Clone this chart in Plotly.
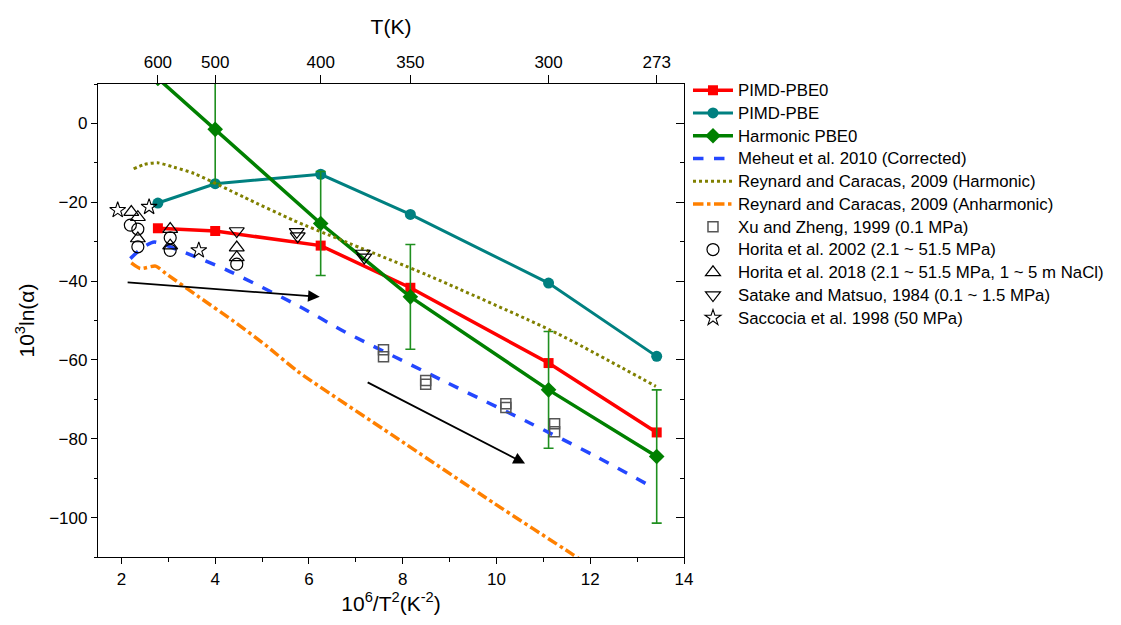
import plotly.graph_objects as go

# Temperatures of the path-integral / harmonic calculations and top-axis labels
temps_K = [600, 500, 400, 350, 300, 273]
inv_t2 = [1e6 / t ** 2 for t in temps_K]   # 10^6/T^2 (K^-2)
top_tick_text = [str(t) for t in temps_K]

# Calculated fractionation, 10^3 ln(alpha)
pimd_pbe0 = [-26.6, -27.3, -31.0, -41.7, -60.8, -78.4]
pimd_pbe = [-20.2, -15.3, -12.9, -23.1, -40.5, -59.1]
harm_pbe0 = [11.4, -1.5, -25.4, -44.0, -67.6, -84.5]
harm_pbe0_err = [None, 13.7, 13.2, 13.3, 14.8, 16.9]

# Literature curves
meheut_x = [2.19, 2.45, 2.70, 3.19, 4.25, 5.81, 6.69, 8.95, 10.71, 12.06, 13.36]
meheut_y = [-34.3, -31.5, -30.1, -32.0, -37.2, -46.5, -52.4, -65.8, -76.0, -84.1, -92.5]
reyh_x = [2.26, 2.49, 2.77, 3.12, 3.55, 4.61, 5.67, 6.69, 8.53, 11.28, 13.40]
reyh_y = [-11.5, -10.4, -10.0, -11.1, -12.7, -18.7, -24.6, -29.6, -38.5, -53.2, -66.7]
reya_x = [2.21, 2.40, 2.73, 2.95, 3.65, 4.36, 5.07, 5.77, 7.82, 9.94, 11.63, 13.40]
reya_y = [-35.4, -36.8, -36.2, -38.1, -44.0, -49.9, -56.2, -63.0, -79.4, -96.3, -109.4, -123.5]

# Experimental data
xu_x = [7.59, 7.59, 8.49, 8.49, 10.20, 10.20, 11.24, 11.24]
xu_y = [-57.4, -59.2, -65.2, -66.2, -71.1, -72.1, -76.2, -78.2]
h02_x = [2.19, 2.35, 2.35, 3.04, 3.04, 4.46]
h02_y = [-25.8, -26.8, -31.3, -29.0, -32.2, -35.7]
h18_x = [2.21, 2.35, 2.35, 3.04, 3.04, 4.46, 4.46]
h18_y = [-22.5, -23.8, -29.2, -26.8, -31.0, -31.5, -34.0]
sat_x = [4.46, 5.74, 5.76, 7.15, 7.18]
sat_y = [-27.3, -27.5, -28.6, -33.0, -34.0]
sac_x = [1.92, 2.59, 3.65]
sac_y = [-22.0, -21.2, -32.2]

# Trend arrows (tail -> head)
arrow_tails = [(2.10, -40.3), (7.22, -65.5)]
arrow_heads = [(6.23, -44.0), (10.61, -86.3)]

X_RANGE = [1.5, 14]
Y_RANGE = [-110, 10]
FONT = "Liberation Sans, Arial, sans-serif"


def legend_label(text):
    # legend rows are spaced by the legend font; the label itself is drawn larger
    return '<span style="font-size:16.8px">' + text + "</span>"


fig = go.Figure()

fig.add_trace(go.Scatter(
    x=inv_t2, y=pimd_pbe0, name=legend_label("PIMD-PBE0"), mode="lines+markers",
    line=dict(color="#ff0000", width=3.5),
    marker=dict(symbol="square", size=10, color="#ff0000")))
fig.add_trace(go.Scatter(
    x=inv_t2, y=pimd_pbe, name=legend_label("PIMD-PBE"), mode="lines+markers",
    line=dict(color="#008080", width=3),
    marker=dict(symbol="circle", size=11, color="#008080")))
fig.add_trace(go.Scatter(
    x=inv_t2, y=harm_pbe0, name=legend_label("Harmonic PBE0"), mode="lines+markers",
    line=dict(color="#008000", width=3.5),
    marker=dict(symbol="diamond", size=12, color="#008000"),
    error_y=dict(type="data", array=harm_pbe0_err, color="#1f8f1f",
                 thickness=1.6, width=5)))
fig.add_trace(go.Scatter(
    x=meheut_x, y=meheut_y, name=legend_label("Meheut et al. 2010 (Corrected)"),
    mode="lines",
    line=dict(color="#2447ff", width=3.5, dash="dash", shape="spline", smoothing=0.6)))
fig.add_trace(go.Scatter(
    x=reyh_x, y=reyh_y, name=legend_label("Reynard and Caracas, 2009 (Harmonic)"),
    mode="lines",
    line=dict(color="#808000", width=3, dash="dot", shape="spline", smoothing=0.6)))
fig.add_trace(go.Scatter(
    x=reya_x, y=reya_y, name=legend_label("Reynard and Caracas, 2009 (Anharmonic)"),
    mode="lines",
    line=dict(color="#ff8000", width=3.5, dash="dashdot", shape="spline", smoothing=0.6)))

fig.add_trace(go.Scatter(
    x=xu_x, y=xu_y, name=legend_label("Xu and Zheng, 1999 (0.1 MPa)"), mode="markers",
    marker=dict(symbol="square-open", size=10, color="#555555", line=dict(width=1.5))))
fig.add_trace(go.Scatter(
    x=h02_x, y=h02_y, name=legend_label("Horita et al. 2002 (2.1 ~ 51.5 MPa)"),
    mode="markers",
    marker=dict(symbol="circle-open", size=12, color="black", line=dict(width=1.2))))
fig.add_trace(go.Scatter(
    x=h18_x, y=h18_y,
    name=legend_label("Horita et al. 2018 (2.1 ~ 51.5 MPa, 1 ~ 5 m NaCl)"),
    mode="markers",
    marker=dict(symbol="triangle-up-open", size=13, color="black", line=dict(width=1.2))))
fig.add_trace(go.Scatter(
    x=sat_x, y=sat_y, name=legend_label("Satake and Matsuo, 1984 (0.1 ~ 1.5 MPa)"),
    mode="markers",
    marker=dict(symbol="triangle-down-open", size=13, color="black", line=dict(width=1.2))))
fig.add_trace(go.Scatter(
    x=sac_x, y=sac_y, name=legend_label("Saccocia et al. 1998 (50 MPa)"), mode="markers",
    marker=dict(symbol="star-open", size=12, color="black", line=dict(width=1.1))))

# Carrier for the temperature axis on top and the mirrored right axis
fig.add_trace(go.Scatter(
    x=inv_t2, y=pimd_pbe0, xaxis="x2", yaxis="y2", mode="markers",
    marker=dict(opacity=0), showlegend=False, hoverinfo="skip"))

for (tx, ty), (hx, hy) in zip(arrow_tails, arrow_heads):
    fig.add_annotation(
        x=hx, y=hy, ax=tx, ay=ty, xref="x", yref="y", axref="x", ayref="y",
        text="", showarrow=True, arrowhead=2, arrowsize=1.3, arrowwidth=1.8,
        arrowcolor="black")

axis_common = dict(showgrid=False, zeroline=False, showline=True,
                   linecolor="black", linewidth=1.3, tickcolor="black",
                   tickwidth=1.3, tickfont=dict(size=17, color="black"))

fig.update_layout(
    width=1121, height=625,
    margin=dict(l=98, r=435, t=84, b=68),
    paper_bgcolor="white", plot_bgcolor="white",
    font=dict(family=FONT, color="black"),
    xaxis=dict(range=X_RANGE, tick0=2, dtick=2, ticks="outside", ticklen=6,
               minor=dict(ticks="outside", ticklen=4, dtick=1, tick0=1,
                          tickcolor="black", tickwidth=1.3),
               title=dict(text="10<sup>6</sup>/T<sup>2</sup>(K<sup>-2</sup>)",
                          font=dict(size=21), standoff=8),
               **axis_common),
    yaxis=dict(range=Y_RANGE, tick0=0, dtick=20, ticks="outside", ticklen=6,
               minor=dict(ticks="outside", ticklen=3, dtick=10, tick0=0,
                          tickcolor="black", tickwidth=1.3),
               title=dict(text="10<sup>3</sup>ln(α)", font=dict(size=21), standoff=8),
               **axis_common),
    xaxis2=dict(range=X_RANGE, overlaying="x", side="top", anchor="y2",
                tickmode="array", tickvals=inv_t2, ticktext=top_tick_text,
                ticks="outside", ticklen=8,
                title=dict(text="T(K)", font=dict(size=21), standoff=12),
                **axis_common),
    yaxis2=dict(range=Y_RANGE, overlaying="y", side="right", anchor="x2",
                tick0=0, dtick=20, ticks="inside", ticklen=8, showticklabels=False,
                minor=dict(ticks="inside", ticklen=4, dtick=10, tick0=0,
                           tickcolor="black", tickwidth=1.3),
                **axis_common),
    legend=dict(x=1.0068, y=1.0215, xanchor="left", yanchor="top",
                font=dict(size=15.2, color="black"), itemwidth=40,
                bgcolor="rgba(0,0,0,0)", tracegroupgap=0),
    showlegend=True,
)

fig.write_html("out.html")
